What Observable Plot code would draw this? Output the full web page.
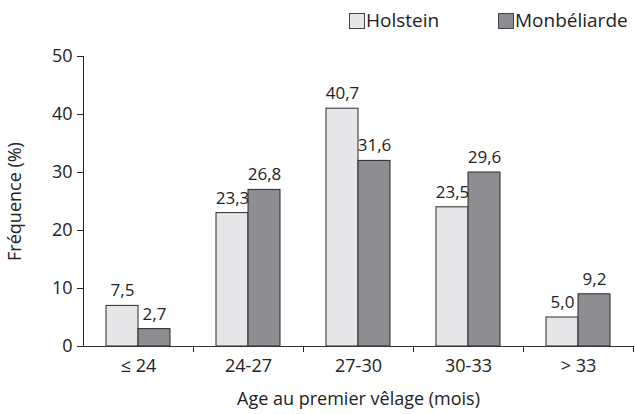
<!DOCTYPE html>
<html>
<head>
<meta charset="utf-8">
<script src="https://cdn.jsdelivr.net/npm/d3@7"></script>
<script src="https://cdn.jsdelivr.net/npm/@observablehq/plot@0.6"></script>
<style>
  body { margin: 0; background: white; }
  #legend { position: relative; height: 40px; width: 635px; font-family: "Open Sans", sans-serif; font-size: 19px; color: #222; }
  .sw { position: absolute; top: 13px; width: 14px; height: 14px; border: 1px solid #444; }
  .lt { position: absolute; top: 7px; line-height: 26px; }
</style>
</head>
<body>
<div id="legend"></div>
<div id="chart"></div>
<script>
const categories = ["≤ 24", "24-27", "27-30", "30-33", "> 33"];
const series = ["Holstein", "Monbéliarde"];
const colors = ["#e6e6e8", "#8e8e92"];
const holstein = [7, 23, 41, 24, 5];
const monbeliarde = [3, 27, 32, 30, 9];
const holsteinLabels = ["7,5", "23,3", "40,7", "23,5", "5,0"];
const monbeliardeLabels = ["2,7", "26,8", "31,6", "29,6", "9,2"];

const data = categories.flatMap((c, i) => [
  {cat: c, breed: series[0], value: holstein[i], label: holsteinLabels[i]},
  {cat: c, breed: series[1], value: monbeliarde[i], label: monbeliardeLabels[i]}
]);

// legend
const legend = document.getElementById("legend");
const legendPos = [[349, 366], [498, 515]];
series.forEach((s, i) => {
  const sw = document.createElement("span");
  sw.className = "sw";
  sw.style.left = legendPos[i][0] + "px";
  sw.style.background = colors[i];
  legend.appendChild(sw);
  const t = document.createElement("span");
  t.className = "lt";
  t.style.left = legendPos[i][1] + "px";
  t.textContent = s;
  legend.appendChild(t);
});

const chart = Plot.plot({
  width: 635,
  height: 374,
  marginLeft: 83,
  marginRight: 2,
  marginTop: 16,
  marginBottom: 68,
  style: {fontFamily: "Open Sans, sans-serif", fontSize: "18px", color: "#222", background: "white"},
  fx: {domain: categories, paddingInner: 0, paddingOuter: 0, label: null},
  x: {domain: series, paddingInner: 0, paddingOuter: 0.69, axis: null},
  y: {domain: [0, 50], ticks: 5, line: true, tickSize: 6, tickPadding: 5,
      label: "Fréquence (%)", labelAnchor: "center", labelOffset: 75, labelArrow: "none"},
  color: {domain: series, range: colors},
  marks: [
    Plot.barY(data, {fx: "cat", x: "breed", y: "value", fill: "breed", stroke: "#2a2a2a", strokeWidth: 1}),
    Plot.text(data, {fx: "cat", x: "breed", y: "value", text: "label", dy: -15, fontSize: 17}),
    Plot.ruleY([0], {stroke: "#333"}),
    Plot.axisFx({anchor: "bottom", tickSize: 0, tickPadding: 13, label: "Age au premier vêlage (mois)", labelAnchor: "center", labelOffset: 58}),
    Plot.axisFx({anchor: "bottom", tickSize: 6, tickFormat: () => "", dx: 55, label: null})
  ]
});
document.getElementById("chart").appendChild(chart);
</script>
</body>
</html>
